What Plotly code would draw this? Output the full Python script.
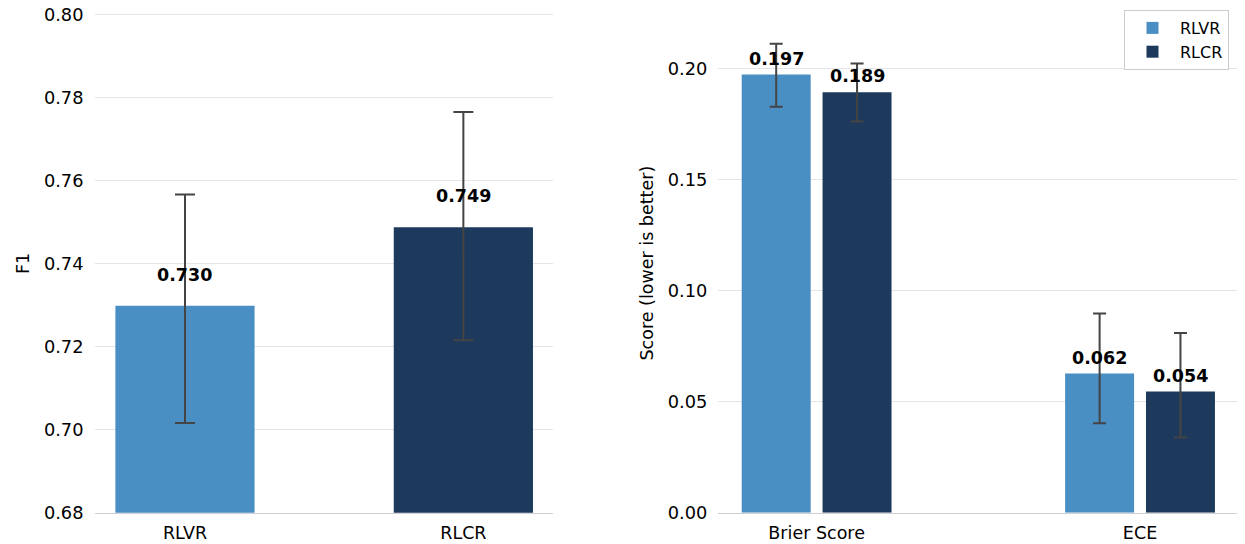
import numpy as np
import plotly.graph_objects as go

# ---------------- data ----------------
methods = ["RLVR", "RLCR"]
colors = ["#4A8FC4", "#1D3A5C"]

# left panel: F1
f1_values = [0.7298, 0.7487]
f1_err_plus = [0.0268, 0.0278]
f1_err_minus = [0.0282, 0.0272]
f1_labels = ["0.730", "0.749"]

# right panel: calibration metrics
metrics = ["Brier Score", "ECE"]
rlvr_scores = [0.1972, 0.0626]
rlcr_scores = [0.1892, 0.0545]
rlvr_err_plus = [0.0138, 0.0270]
rlvr_err_minus = [0.0145, 0.0224]
rlcr_err_plus = [0.0129, 0.0264]
rlcr_err_minus = [0.0132, 0.0207]
rlvr_labels = ["0.197", "0.062"]
rlcr_labels = ["0.189", "0.054"]

left_ticks = [0.68, 0.70, 0.72, 0.74, 0.76, 0.78, 0.80]
right_ticks = [0.00, 0.05, 0.10, 0.15, 0.20]

# ---------------- style ----------------
FONT = "DejaVu Sans"
FS = 17.5
GRID = "#e4e5ea"
ERRC = "#444444"
W, H = 1245, 544
PAGE_OFF = 8  # html body margin


def fx(px):
    return (px - PAGE_OFF) / W


def fy(py):
    return 1 - (py - PAGE_OFF) / H


fig = go.Figure()

xl = np.arange(len(methods))
fig.add_trace(go.Bar(
    x=xl, y=f1_values, width=0.5, marker=dict(color=colors, line=dict(width=0)),
    error_y=dict(type="data", symmetric=False, array=f1_err_plus, arrayminus=f1_err_minus,
                 color=ERRC, thickness=2, width=10),
    showlegend=False, xaxis="x", yaxis="y", hoverinfo="skip",
))

xr = np.arange(len(metrics))
off = 0.125
bw = 0.2133
series = [
    ("RLVR", rlvr_scores, rlvr_err_plus, rlvr_err_minus, colors[0], -off),
    ("RLCR", rlcr_scores, rlcr_err_plus, rlcr_err_minus, colors[1], off),
]
for name, vals, ep, em, col, o in series:
    fig.add_trace(go.Bar(
        x=xr + o, y=vals, width=bw, name=name, marker=dict(color=col, line=dict(width=0)),
        error_y=dict(type="data", symmetric=False, array=ep, arrayminus=em,
                     color=ERRC, thickness=2, width=6.5),
        xaxis="x2", yaxis="y2", hoverinfo="skip",
    ))

annotations = []
for x, v, t in zip(xl, f1_values, f1_labels):
    annotations.append(dict(x=x, y=v, xref="x", yref="y", text=t, showarrow=False,
                            yanchor="middle", yshift=31,
                            font=dict(family=FONT, size=FS, color="black", weight="bold")))
for (name, vals, ep, em, col, o), labs in zip(series, [rlvr_labels, rlcr_labels]):
    for x, v, t in zip(xr + o, vals, labs):
        annotations.append(dict(x=x, y=v, xref="x2", yref="y2", text=t, showarrow=False,
                                yanchor="middle", yshift=16,
                                font=dict(family=FONT, size=FS, color="black", weight="bold")))

ydom = [fy(512.7), fy(12.5)]
annotations.append(dict(x=fx(22.5), y=fy(263.5), xref="paper", yref="paper", text="F1",
                        textangle=-90, showarrow=False, xanchor="center", yanchor="middle",
                        font=dict(family=FONT, size=FS, color="black")))
annotations.append(dict(x=fx(646), y=fy(263.5), xref="paper", yref="paper",
                        text="Score (lower is better)", textangle=-90, showarrow=False,
                        xanchor="center", yanchor="middle",
                        font=dict(family=FONT, size=FS, color="black")))

axis_common = dict(showgrid=False, zeroline=False, showline=True, linecolor="#d0d0d4",
                   linewidth=1.2, ticks="", ticklabelstandoff=4, ticklabeloverflow="allow",
                   tickfont=dict(family=FONT, size=FS, color="black"), automargin=False)
yaxis_common = dict(showgrid=True, gridcolor=GRID, gridwidth=1, zeroline=False, showline=False,
                    ticks="", ticklabelstandoff=10, ticklabeloverflow="allow",
                    tickfont=dict(family=FONT, size=17.8, color="black"), automargin=False)

fig.update_layout(
    width=W, height=H,
    margin=dict(l=0, r=0, t=0, b=0),
    paper_bgcolor="white", plot_bgcolor="white",
    barmode="overlay",
    font=dict(family=FONT, size=FS, color="black"),
    xaxis=dict(domain=[fx(94.5), fx(553)], range=[-0.325, 1.322],
               tickmode="array", tickvals=list(xl), ticktext=methods, anchor="y", **axis_common),
    yaxis=dict(domain=ydom, range=[0.68, 0.80043], tickmode="array", tickvals=left_ticks,
               tickformat=".2f", anchor="x", **yaxis_common),
    xaxis2=dict(domain=[fx(718.3), fx(1239)], range=[-0.304, 1.306],
                tickmode="array", tickvals=list(xr), ticktext=metrics, anchor="y2", **axis_common),
    yaxis2=dict(domain=ydom, range=[0.0, 0.2251], tickmode="array", tickvals=right_ticks,
                tickformat=".2f", anchor="x2", **yaxis_common),
    legend=dict(x=fx(1229), xanchor="right", y=fy(10), yanchor="top",
                bgcolor="white", bordercolor="#cccccc", borderwidth=1, itemwidth=45,
                font=dict(family=FONT, size=16, color="black"), traceorder="normal"),
    annotations=annotations,
)

fig.write_html("out.html")
